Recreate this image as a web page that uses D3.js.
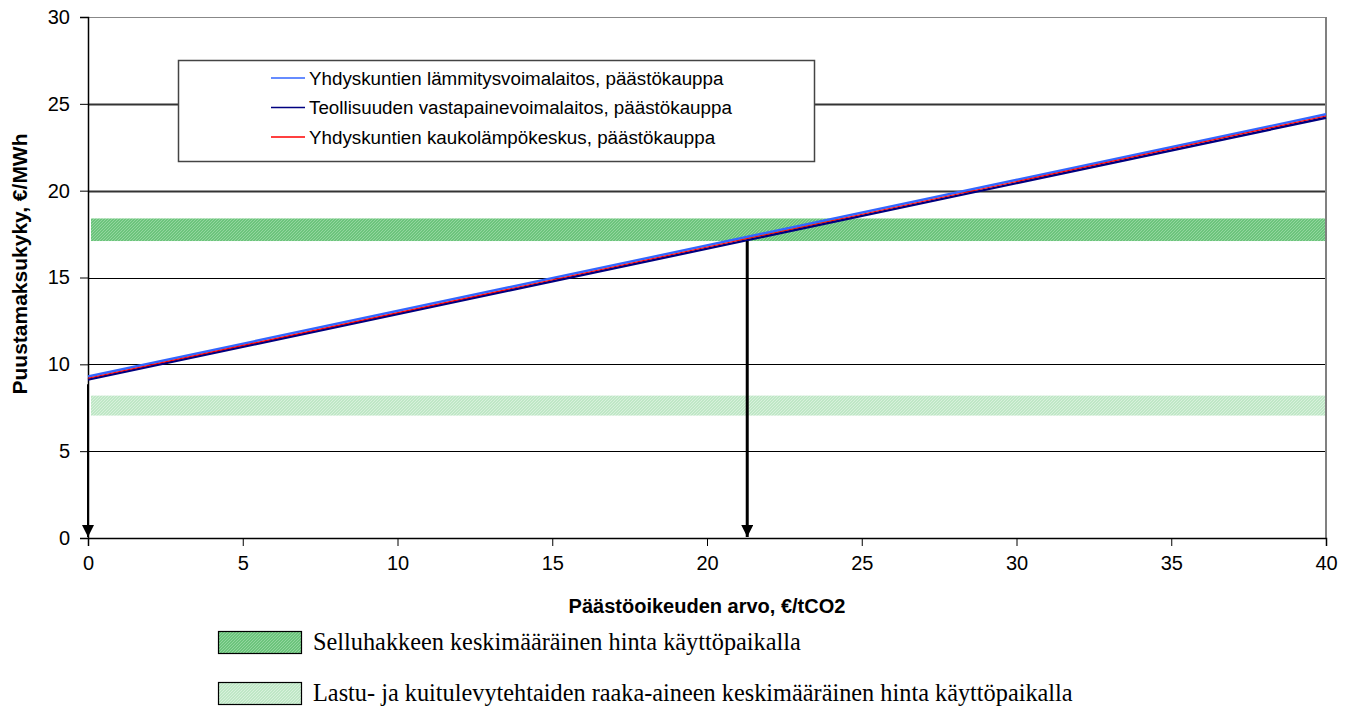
<!DOCTYPE html>
<html>
<head>
<meta charset="utf-8">
<script src="https://cdn.jsdelivr.net/npm/d3@7"></script>
<style>
  html, body { margin: 0; padding: 0; background: #fff; }
  svg { display: block; }
</style>
</head>
<body>
<svg id="chart" width="1355" height="711"></svg>
<script>
// Carbon price (€/tCO2) on the x axis, ability to pay for wood (€/MWh) on the y axis
const xDomain = [0, 40];
const yDomain = [0, 30];
const xTicks = [0, 5, 10, 15, 20, 25, 30, 35, 40];
const yTicks = [0, 5, 10, 15, 20, 25, 30];

// Line end points: emission allowance price and corresponding ability to pay
const allowancePrice = [0, 40];
const seriesNames = [
  "Yhdyskuntien lämmitysvoimalaitos, päästökauppa",
  "Teollisuuden vastapainevoimalaitos, päästökauppa",
  "Yhdyskuntien kaukolämpökeskus, päästökauppa"
];
const lammitysvoimalaitos = [9.3, 24.4];
const vastapainevoimalaitos = [9.12, 24.2];
const kaukolampokeskus = [9.2, 24.3];

// Average price ranges of wood raw material (€/MWh)
const bandNames = [
  "Selluhakkeen keskimääräinen hinta käyttöpaikalla",
  "Lastu- ja kuitulevytehtaiden raaka-aineen keskimääräinen hinta käyttöpaikalla"
];
const bandLow = [17.1, 7.05];
const bandHigh = [18.4, 8.2];

// Reading arrows: from the curve down to the x axis
const arrowX = [0, 21.3];
const arrowFrom = [8.85, 17.1];

const svg = d3.select("#chart");
const x = d3.scaleLinear().domain(xDomain).range([88, 1326]);
const y = d3.scaleLinear().domain(yDomain).range([538, 17]);

// Textured fills for the price bands
const defs = svg.append("defs");
function dotPattern(id, base, dot) {
  const p = defs.append("pattern").attr("id", id)
    .attr("width", 3).attr("height", 3).attr("patternUnits", "userSpaceOnUse");
  p.append("rect").attr("width", 3).attr("height", 3).attr("fill", base);
  p.append("rect").attr("x", 0).attr("y", 0).attr("width", 1).attr("height", 1).attr("fill", dot);
  p.append("rect").attr("x", 2).attr("y", 1).attr("width", 1).attr("height", 1).attr("fill", dot);
  p.append("rect").attr("x", 1).attr("y", 2).attr("width", 1).attr("height", 1).attr("fill", dot);
}
dotPattern("bandDark", "#6cc47c", "#93d69f");
dotPattern("bandLight", "#bfe7c6", "#d8f1dc");
const bandFill = ["url(#bandDark)", "url(#bandLight)"];

// Horizontal grid lines
svg.append("g").selectAll("line")
  .data(yTicks.filter(d => d > 0 && d < 30))
  .join("line")
  .attr("x1", x(0)).attr("x2", x(40))
  .attr("y1", d => Math.round(y(d)) + 0.5).attr("y2", d => Math.round(y(d)) + 0.5)
  .attr("stroke", d => d >= 20 ? "#333" : "#000")
  .attr("stroke-width", d => d >= 20 ? 2 : 1);

// Plot frame top and right
svg.append("line").attr("x1", x(0)).attr("x2", x(40)).attr("y1", y(30) + 0.5).attr("y2", y(30) + 0.5)
  .attr("stroke", "#888").attr("stroke-width", 1);
svg.append("line").attr("x1", x(40)).attr("x2", x(40)).attr("y1", y(30)).attr("y2", y(0))
  .attr("stroke", "#808080").attr("stroke-width", 2);

// Price bands
svg.append("g").selectAll("rect")
  .data(bandLow.map((lo, i) => ({ lo, hi: bandHigh[i], fill: bandFill[i] })))
  .join("rect")
  .attr("x", x(0) + 3).attr("width", x(40) - x(0) - 4)
  .attr("y", d => y(d.hi)).attr("height", d => y(d.lo) - y(d.hi))
  .attr("fill", d => d.fill);

// Axes
const yAxis = svg.append("g").attr("transform", `translate(${x(0)},0)`)
  .call(d3.axisLeft(y).tickValues(yTicks).tickSize(8).tickPadding(10).tickFormat(d3.format("d")));
const xAxis = svg.append("g").attr("transform", `translate(0,${y(0)})`)
  .call(d3.axisBottom(x).tickValues(xTicks).tickSize(8).tickPadding(10).tickFormat(d3.format("d")));
[yAxis, xAxis].forEach(g => {
  g.select(".domain").attr("stroke", "#000").attr("stroke-width", 1.5);
  g.selectAll(".tick line").attr("stroke", "#000");
  g.selectAll(".tick text").attr("font-family", "Arial, 'Liberation Sans', sans-serif")
    .attr("font-size", 20).attr("fill", "#000");
});

// Lines
const seriesData = [
  { values: vastapainevoimalaitos, color: "#000080", width: 2.4 },
  { values: lammitysvoimalaitos, color: "#3366ff", width: 2.4 },
  { values: kaukolampokeskus, color: "#ff0000", width: 1.1 }
];
const line = d3.line().x(d => x(d[0])).y(d => y(d[1]));
svg.append("g").selectAll("path")
  .data(seriesData)
  .join("path")
  .attr("d", s => line(allowancePrice.map((p, i) => [p, s.values[i]])))
  .attr("fill", "none")
  .attr("stroke", s => s.color)
  .attr("stroke-width", s => s.width);

// Arrows
defs.append("marker").attr("id", "arrowHead")
  .attr("viewBox", "0 0 12 12").attr("refX", 6).attr("refY", 12)
  .attr("markerWidth", 12).attr("markerHeight", 12).attr("markerUnits", "userSpaceOnUse")
  .attr("orient", "0")
  .append("path").attr("d", "M0,0 L12,0 L6,12 Z").attr("fill", "#000");
svg.append("g").selectAll("line")
  .data(arrowX.map((v, i) => ({ v, from: arrowFrom[i] })))
  .join("line")
  .attr("x1", d => x(d.v)).attr("x2", d => x(d.v))
  .attr("y1", d => y(d.from)).attr("y2", y(0) - 1)
  .attr("stroke", "#000").attr("stroke-width", (d, i) => i === 0 ? 2 : 3)
  .attr("marker-end", "url(#arrowHead)");

// Axis titles
svg.append("text")
  .attr("x", (x(0) + x(40)) / 2).attr("y", 613)
  .attr("text-anchor", "middle")
  .attr("font-family", "Arial, 'Liberation Sans', sans-serif")
  .attr("font-size", 20).attr("font-weight", "bold")
  .text("Päästöoikeuden arvo, €/tCO2");
svg.append("text")
  .attr("transform", "translate(27,264) rotate(-90)")
  .attr("text-anchor", "middle")
  .attr("font-family", "Arial, 'Liberation Sans', sans-serif")
  .attr("font-size", 21).attr("font-weight", "bold")
  .text("Puustamaksukyky, €/MWh");

// Series legend
const leg = svg.append("g");
leg.append("rect").attr("x", 178.5).attr("y", 60.5).attr("width", 636).attr("height", 101)
  .attr("fill", "#fff").attr("stroke", "#444").attr("stroke-width", 1.5);
const legRows = leg.selectAll("g.row")
  .data(seriesNames.map((n, i) => ({ n, color: ["#3366ff", "#000080", "#ff0000"][i] })))
  .join("g").attr("class", "row")
  .attr("transform", (d, i) => `translate(0,${78 + i * 29.5})`);
legRows.append("line").attr("x1", 271).attr("x2", 305)
  .attr("stroke", d => d.color).attr("stroke-width", 1.5);
legRows.append("text").attr("x", 309).attr("y", 6.5)
  .attr("font-family", "Arial, 'Liberation Sans', sans-serif")
  .attr("font-size", 18.8).text(d => d.n);

// Band legend
const bleg = svg.append("g").selectAll("g")
  .data(bandNames.map((n, i) => ({ n, fill: bandFill[i] })))
  .join("g")
  .attr("transform", (d, i) => `translate(0,${631 + i * 51})`);
bleg.append("rect").attr("x", 218.5).attr("y", 0.5).attr("width", 83).attr("height", 22)
  .attr("fill", d => d.fill).attr("stroke", "#000").attr("stroke-width", 1.2);
bleg.append("text").attr("x", 313).attr("y", 19)
  .attr("font-family", "'Liberation Serif', 'Times New Roman', serif")
  .attr("font-size", 24.3).text(d => d.n);
</script>
</body>
</html>
